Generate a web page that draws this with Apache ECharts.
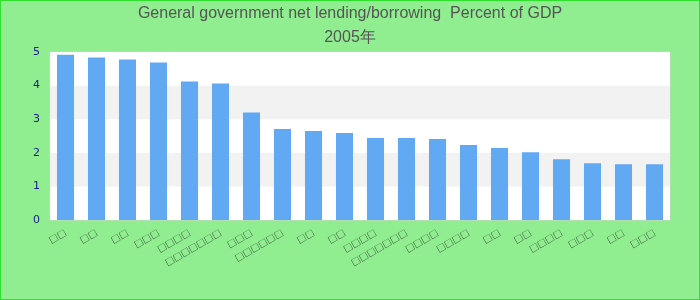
<!DOCTYPE html>
<html>
<head>
<meta charset="utf-8">
<script src="https://cdn.jsdelivr.net/npm/echarts@6/dist/echarts.min.js"></script>
<style>
html,body{margin:0;padding:0;background:#90EE90;}
#c{width:698px;height:298px;border:1px solid #2fe02f;background:#90EE90;}
</style>
</head>
<body>
<div id="c"></div>
<script>
var titleText = 'General government net lending/borrowing  Percent of GDP';
var subTitle = '2005年';
var categories = ['□□','□□','□□','□□□','□□□□','□□□□□□□','□□□','□□□□□□','□□','□□','□□□□','□□□□□□□','□□□□','□□□□','□□','□□','□□□□','□□□','□□','□□□'];
var values = [4.92,4.84,4.78,4.69,4.12,4.06,3.20,2.71,2.65,2.59,2.44,2.44,2.41,2.23,2.14,2.02,1.81,1.69,1.66,1.66];
var yMin = 0, yMax = 5, yInterval = 1;

var chart = echarts.init(document.getElementById('c'));
chart.setOption({
  backgroundColor: '#90EE90',
  animation: false,
  title: {
    text: titleText + '\n' + subTitle,
    left: 'center',
    top: 1,
    padding: 0,
    textStyle: {fontFamily: 'Liberation Sans', fontSize: 16, fontWeight: 'normal', color: '#555555', lineHeight: 24}
  },
  grid: {left: 49, right: 29, top: 51, bottom: 79, show: true, backgroundColor: '#ffffff', borderColor: '#d0d0d0', borderWidth: 1},
  xAxis: {
    type: 'category',
    data: categories,
    axisLine: {show: false},
    axisTick: {show: false},
    axisLabel: {interval: 0, rotate: 30, margin: 12, fontSize: 9, fontFamily: 'Noto Sans CJK JP', color: '#1a1a1a'}
  },
  yAxis: {
    type: 'value',
    min: yMin, max: yMax, interval: yInterval,
    axisLine: {show: false},
    axisTick: {show: false},
    splitLine: {show: false},
    splitArea: {show: true, areaStyle: {color: ['#ffffff', '#f2f2f2']}},
    axisLabel: {fontFamily: 'DejaVu Sans', fontSize: 11, color: '#1a1a8c', margin: 10}
  },
  series: [{
    type: 'bar',
    data: values,
    barWidth: '55%',
    itemStyle: {color: '#62A9F4'}
  }]
});
</script>
</body>
</html>
